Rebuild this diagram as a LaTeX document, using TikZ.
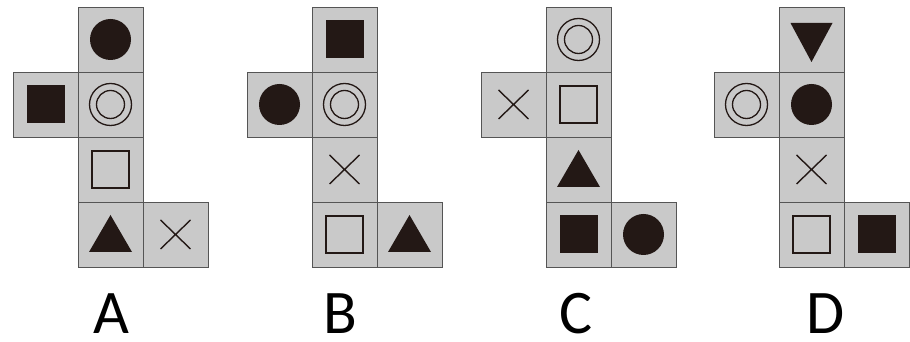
\documentclass[tikz,border=0pt]{standalone}
\usepackage{fontspec}
\setmainfont{Carlito}
\usetikzlibrary{positioning}
\definecolor{facegray}{HTML}{C9C9C9}
\definecolor{edgegray}{HTML}{555555}
\definecolor{ink}{HTML}{231815}

\begin{document}
\begin{tikzpicture}[
    x=1pt, y=1pt,
    face/.style={draw=edgegray, line width=0.8pt, fill=facegray, minimum size=65pt, inner sep=0pt, outer sep=0pt},
    disc/.style={face, path picture={\fill[ink] (path picture bounding box.center) circle (20.5);}},
    ring/.style={face, path picture={\draw[ink, line width=1.3pt] (path picture bounding box.center) circle (21) (path picture bounding box.center) circle (14);}},
    blocksq/.style={face, path picture={\fill[ink, shift={(path picture bounding box.center)}] (-19,-19) rectangle (19,19);}},
    opensq/.style={face, path picture={\draw[ink, line width=1.5pt, shift={(path picture bounding box.center)}] (-18.5,-18.5) rectangle (18.5,18.5);}},
    tri/.style={face, path picture={\fill[ink, shift={(path picture bounding box.center)}] (-21.5,-17.5) -- (21.5,-17.5) -- (0,19.5) -- cycle;}},
    tridown/.style={face, path picture={\fill[ink, shift={(path picture bounding box.center)}] (-21,16.5) -- (21,16.5) -- (0,-22.5) -- cycle;}},
    cross/.style={face, path picture={\draw[ink, line width=1.4pt, shift={(path picture bounding box.center)}] (-15,-14.5) -- (15,14.5) (-15,14.5) -- (15,-14.5);}},
    letter/.style={anchor=base, inner sep=0pt, font=\fontsize{62}{65}\selectfont}
]
\useasboundingbox (0,0) rectangle (910,342);

% Net A
\node[disc] (a1) at (110.5,302.5) {};
\node[blocksq] (a2) at (45.5,237.5) {};
\node[ring] (a3) at (110.5,237.5) {};
\node[opensq] (a4) at (110.5,172.5) {};
\node[tri] (a5) at (110.5,107.5) {};
\node[cross] (a6) at (175.5,107.5) {};
\node[letter] (la) at (111,8) {A};

% Net B
\node[blocksq] (b1) at (344.5,302.5) {};
\node[disc] (b2) at (279.5,237.5) {};
\node[ring] (b3) at (344.5,237.5) {};
\node[cross] (b4) at (344.5,172.5) {};
\node[opensq] (b5) at (344.5,107.5) {};
\node[tri] (b6) at (409.5,107.5) {};
\node[letter] (lb) at (340,8) {B};

% Net C
\node[ring] (c1) at (578.5,302.5) {};
\node[cross] (c2) at (513.5,237.5) {};
\node[opensq] (c3) at (578.5,237.5) {};
\node[tri] (c4) at (578.5,172.5) {};
\node[blocksq] (c5) at (578.5,107.5) {};
\node[disc] (c6) at (643.5,107.5) {};
\node[letter] (lc) at (576,8) {C};

% Net D
\node[tridown] (d1) at (811.5,302.5) {};
\node[ring] (d2) at (746.5,237.5) {};
\node[disc] (d3) at (811.5,237.5) {};
\node[cross] (d4) at (811.5,172.5) {};
\node[opensq] (d5) at (811.5,107.5) {};
\node[blocksq] (d6) at (876.5,107.5) {};
\node[letter] (ld) at (826,8) {D};

\end{tikzpicture}
\end{document}
